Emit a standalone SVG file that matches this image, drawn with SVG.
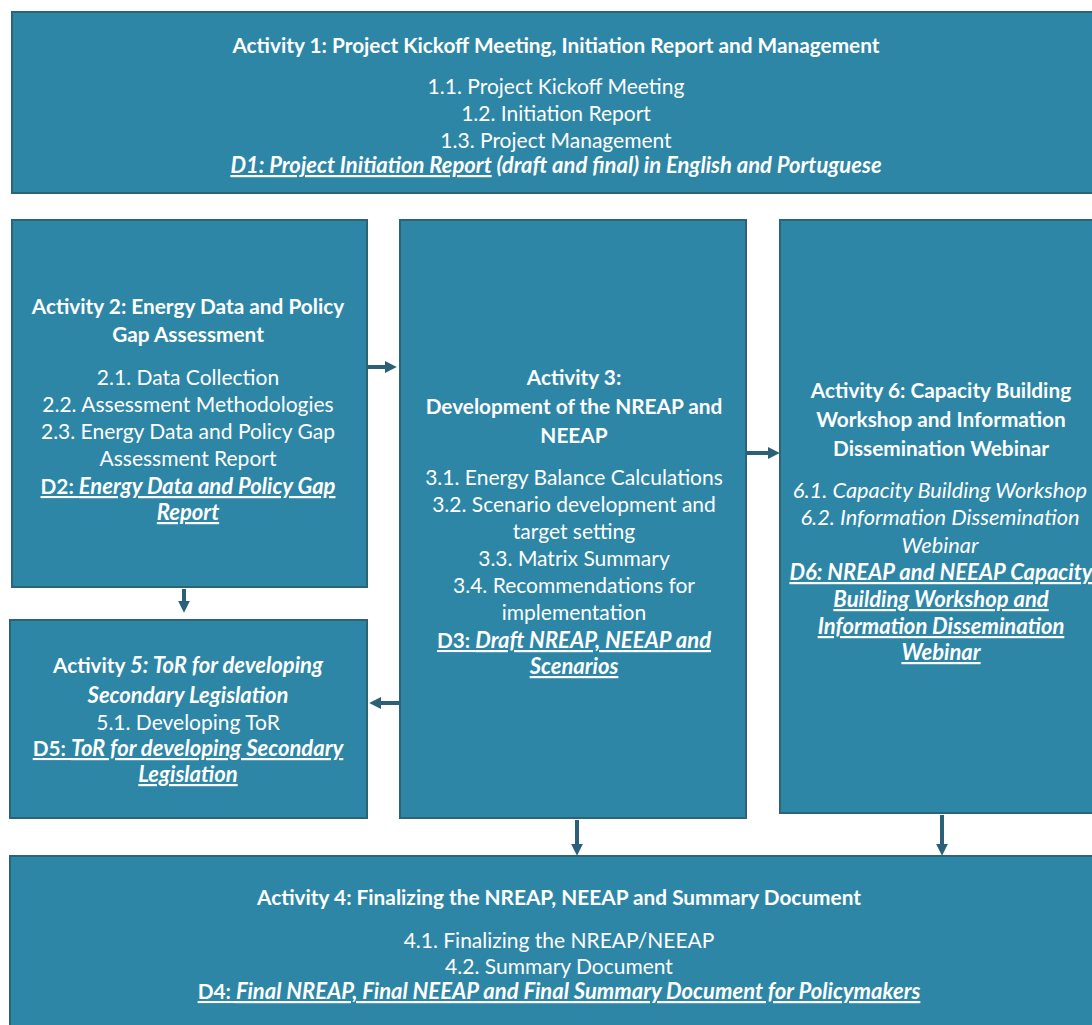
<svg xmlns="http://www.w3.org/2000/svg" width="1092" height="1025" viewBox="0 0 1092 1025">
<defs>
<style>
.box{fill:#2d86a6;stroke:#2a6478;stroke-width:2}
text{font-family:Lato,"Liberation Sans",sans-serif;fill:#ffffff;text-anchor:middle;font-size:21px}
.t{font-weight:bold;font-size:20.8px}
.bi{font-weight:bold;font-style:italic;font-size:22px}
.i{font-style:italic;font-size:21.8px}
.u{text-decoration:underline}
.arr{stroke:#2b6178;stroke-width:4;fill:none}
</style>
<marker id="ah" viewBox="0 0 10 10" refX="6" refY="5" markerWidth="12" markerHeight="12" markerUnits="userSpaceOnUse" orient="auto">
<path d="M0,0 L10,5 L0,10 Z" fill="#2b6178"/>
</marker>
</defs>
<rect width="1092" height="1025" fill="#ffffff"/>

<g id="activity1">
<rect class="box" x="12" y="12" width="1090" height="181"/>
<text class="t" x="556" y="53">Activity 1: Project Kickoff Meeting, Initiation Report and Management</text>
<text x="556" y="94">1.1. Project Kickoff Meeting</text>
<text x="556" y="121">1.2. Initiation Report</text>
<text x="556" y="148">1.3. Project Management</text>
<text class="bi" x="556" y="173"><tspan class="u">D1: Project Initiation Report</tspan> (draft and final) in English and Portuguese</text>
</g>

<g id="activity2">
<rect class="box" x="12" y="220" width="355" height="367"/>
<text class="t" x="188" y="314">Activity 2: Energy Data and Policy</text>
<text class="t" x="188" y="342">Gap Assessment</text>
<text x="188" y="385">2.1. Data Collection</text>
<text x="188" y="412">2.2. Assessment Methodologies</text>
<text x="188" y="439">2.3. Energy Data and Policy Gap</text>
<text x="188" y="466">Assessment Report</text>
<text class="u" x="188" y="494"><tspan class="t">D2: </tspan><tspan class="bi">Energy Data and Policy Gap</tspan></text>
<text class="bi u" x="188" y="520">Report</text>
</g>

<g id="activity3">
<rect class="box" x="400" y="220" width="346" height="598"/>
<text class="t" x="574" y="385">Activity 3:</text>
<text class="t" x="574" y="414">Development of the NREAP and</text>
<text class="t" x="574" y="443">NEEAP</text>
<text x="574" y="485">3.1. Energy Balance Calculations</text>
<text x="574" y="512">3.2. Scenario development and</text>
<text x="574" y="539">target setting</text>
<text x="574" y="566">3.3. Matrix Summary</text>
<text x="574" y="593">3.4. Recommendations for</text>
<text x="574" y="620">implementation</text>
<text class="u" x="574" y="648"><tspan class="t">D3: </tspan><tspan class="bi">Draft NREAP, NEEAP and</tspan></text>
<text class="bi u" x="574" y="674">Scenarios</text>
</g>

<g id="activity6">
<rect class="box" x="780" y="220" width="320" height="593"/>
<text class="t" x="941" y="398">Activity 6: Capacity Building</text>
<text class="t" x="941" y="427">Workshop and Information</text>
<text class="t" x="941" y="456">Dissemination Webinar</text>
<text class="i" x="940" y="498">6.1. Capacity Building Workshop</text>
<text class="i" x="940" y="525">6.2. Information Dissemination</text>
<text class="i" x="940" y="553">Webinar</text>
<text class="bi u" x="941" y="580">D6: NREAP and NEEAP Capacity</text>
<text class="bi u" x="941" y="607">Building Workshop and</text>
<text class="bi u" x="941" y="634">Information Dissemination</text>
<text class="bi u" x="941" y="660">Webinar</text>
</g>

<g id="activity5">
<rect class="box" x="10" y="620" width="357" height="198"/>
<text x="188" y="673"><tspan class="t">Activity </tspan><tspan class="bi">5: ToR for developing</tspan></text>
<text class="bi" x="188" y="703">Secondary Legislation</text>
<text x="188" y="730">5.1. Developing ToR</text>
<text class="u" x="188" y="756"><tspan class="t">D5: </tspan><tspan class="bi">ToR for developing Secondary</tspan></text>
<text class="bi u" x="188" y="782">Legislation</text>
</g>

<g id="activity4">
<rect class="box" x="10" y="856" width="1092" height="180"/>
<text class="t" x="559" y="905">Activity 4: Finalizing the NREAP, NEEAP and Summary Document</text>
<text x="559" y="948">4.1. Finalizing the NREAP/NEEAP</text>
<text x="559" y="974">4.2. Summary Document</text>
<text class="u" x="559" y="999"><tspan class="t">D4: </tspan><tspan class="bi">Final NREAP, Final NEEAP and Final Summary Document for Policymakers</tspan></text>
</g>

<g id="connectors">
<line class="arr" x1="368" y1="367" x2="392" y2="367" marker-end="url(#ah)"/>
<line class="arr" x1="747" y1="453" x2="775" y2="453" marker-end="url(#ah)"/>
<line class="arr" x1="184" y1="589" x2="184" y2="608" marker-end="url(#ah)"/>
<line class="arr" x1="399" y1="703" x2="374" y2="703" marker-end="url(#ah)"/>
<line class="arr" x1="577" y1="820" x2="577" y2="851" marker-end="url(#ah)"/>
<line class="arr" x1="942" y1="815" x2="942" y2="851" marker-end="url(#ah)"/>
</g>
</svg>
